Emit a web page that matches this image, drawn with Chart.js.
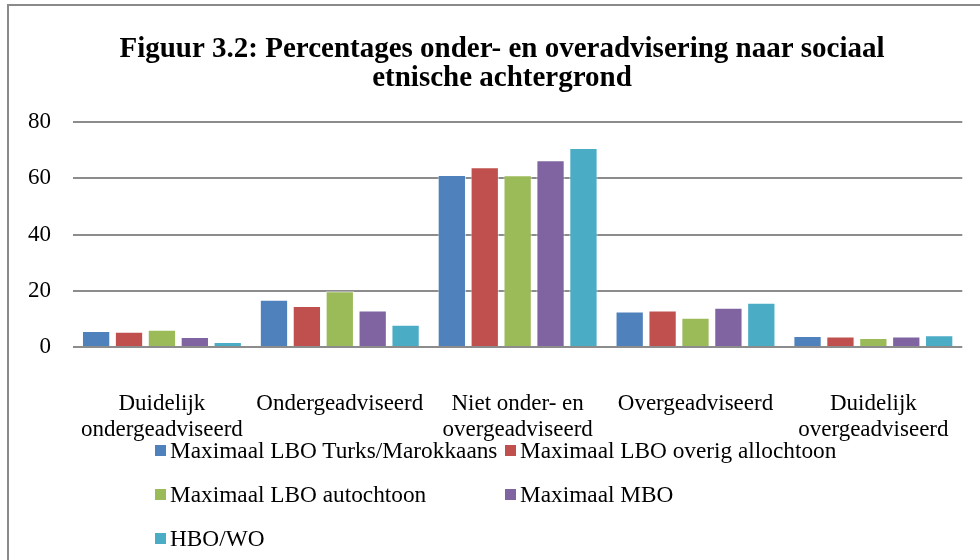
<!DOCTYPE html>
<html>
<head>
<meta charset="utf-8">
<script src="https://cdn.jsdelivr.net/npm/chart.js@4.4.1/dist/chart.umd.min.js"></script>
<style>
  html, body { margin: 0; padding: 0; background: #fff; overflow: hidden; }
  #frame {
    position: absolute; left: 7px; top: 4px; width: 1000px; height: 600px;
    border-left: 2px solid #8a8a8a; border-top: 2px solid #8a8a8a;
  }
  #wrap { position: absolute; left: 0; top: 0; width: 985px; height: 560px; }
  #legend {
    position: absolute; left: 155px; top: 437px;
    display: grid; grid-template-columns: 350px 350px; row-gap: 17px;
    font-family: "Liberation Serif", "Times New Roman", serif; font-size: 23.3px; line-height: 27px; color: #000;
  }
  .item { display: flex; align-items: center; white-space: nowrap; }
  .box { width: 11px; height: 11px; margin-right: 4px; }
</style>
</head>
<body>
<div id="frame"></div>
<div id="wrap"><canvas id="chart" width="985" height="560"></canvas></div>
<div id="legend"></div>
<script>
const titleLines = ["Figuur 3.2: Percentages onder- en overadvisering naar sociaal", "etnische achtergrond"];
const categories = [
  ["Duidelijk", "ondergeadviseerd"],
  "Ondergeadviseerd",
  ["Niet onder- en", "overgeadviseerd"],
  "Overgeadviseerd",
  ["Duidelijk", "overgeadviseerd"]
];
const seriesNames = [
  "Maximaal LBO Turks/Marokkaans",
  "Maximaal LBO overig allochtoon",
  "Maximaal LBO autochtoon",
  "Maximaal MBO",
  "HBO/WO"
];
const lboTurksMarokkaans = [5.7, 16.8, 61.2, 12.6, 3.9];
const lboOverigAllochtoon = [5.4, 14.6, 63.9, 13.0, 3.7];
const lboAutochtoon = [6.1, 19.8, 61.1, 10.4, 3.2];
const maximaalMbo = [3.6, 13.0, 66.4, 14.0, 3.7];
const hboWo = [1.8, 7.9, 70.8, 15.7, 4.2];
const colors = ["#4F81BD", "#C0504D", "#9BBB59", "#8064A2", "#4BACC6"];
const yTicks = [0, 20, 40, 60, 80];

const allSeries = [lboTurksMarokkaans, lboOverigAllochtoon, lboAutochtoon, maximaalMbo, hboWo];
const serif = "'Liberation Serif', 'Times New Roman', serif";

const datasets = allSeries.map(function (values, i) {
  return {
    label: seriesNames[i],
    data: values,
    backgroundColor: colors[i],
    borderColor: "rgba(255,255,255,0.6)",
    borderWidth: 1,
    categoryPercentage: 0.925,
    barPercentage: 0.86
  };
});

// title drawn centered on the frame, not on the plot area
const frameTitle = {
  id: "frameTitle",
  afterDraw: function (chart) {
    const c = chart.ctx;
    c.save();
    c.fillStyle = "#000";
    c.font = "bold 29px " + serif;
    c.textAlign = "center";
    c.textBaseline = "alphabetic";
    c.fillText(titleLines[0], 502, 57);
    c.fillText(titleLines[1], 502, 86);
    c.restore();
  }
};

const ctx = document.getElementById("chart").getContext("2d");
const chart = new Chart(ctx, {
  type: "bar",
  data: { labels: categories, datasets: datasets },
  options: {
    responsive: false,
    animation: false,
    layout: { padding: { left: 6, right: 5, top: 122, bottom: 81 } },
    plugins: {
      legend: { display: false },
      tooltip: { enabled: false },
      title: { display: false }
    },
    scales: {
      x: {
        grid: { display: false },
        border: { display: false },
        ticks: {
          color: "#000",
          font: { family: serif, size: 23, lineHeight: 1.13 },
          maxRotation: 0,
          autoSkip: false,
          padding: 36
        }
      },
      y: {
        min: 0,
        max: 80,
        afterBuildTicks: function (axis) {
          axis.ticks = yTicks.map(function (v) { return { value: v }; });
        },
        grid: { color: "#8c8c8c", lineWidth: 2, drawTicks: false },
        border: { display: false },
        ticks: {
          color: "#000",
          font: { family: serif, size: 23 },
          padding: 22
        }
      }
    }
  },
  plugins: [frameTitle]
});

// legend in two columns like the original
const legend = document.getElementById("legend");
chart.data.datasets.forEach(function (ds) {
  const item = document.createElement("div");
  item.className = "item";
  const box = document.createElement("span");
  box.className = "box";
  box.style.background = ds.backgroundColor;
  const txt = document.createElement("span");
  txt.textContent = ds.label;
  item.appendChild(box);
  item.appendChild(txt);
  legend.appendChild(item);
});
</script>
</body>
</html>
